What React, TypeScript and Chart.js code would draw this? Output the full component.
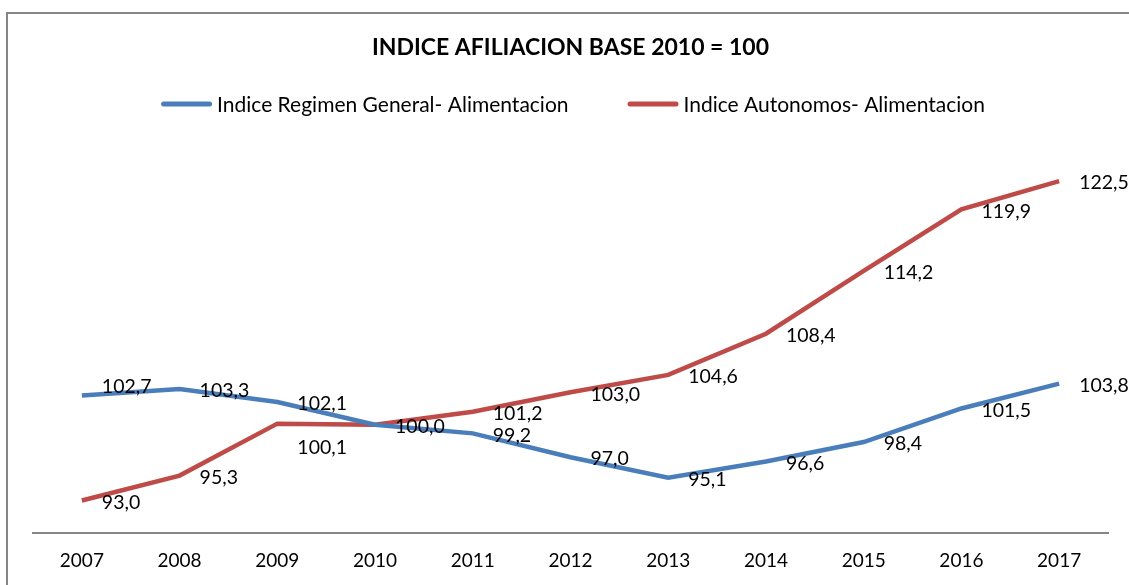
import React, { useEffect, useRef } from "react";
import { Chart, registerables } from "chart.js";

Chart.register(...registerables);

const years = ["2007", "2008", "2009", "2010", "2011", "2012", "2013", "2014", "2015", "2016", "2017"];
const regimenGeneral = [102.7, 103.3, 102.1, 100.0, 99.2, 97.0, 95.1, 96.6, 98.4, 101.5, 103.8];
const autonomos = [93.0, 95.3, 100.1, 100.0, 101.2, 103.0, 104.6, 108.4, 114.2, 119.9, 122.5];
const seriesNames = ["Indice Regimen General- Alimentacion", "Indice Autonomos- Alimentacion"];
const titleText = "INDICE AFILIACION BASE 2010 = 100";

const BLUE = "#4A7EBB";
const RED = "#BE4B48";
const FONT = "Lato, 'Open Sans', sans-serif";

const frame = {
  id: "frame",
  beforeDraw(chart: any) {
    const { ctx, width, height } = chart;
    ctx.save();
    ctx.fillStyle = "#ffffff";
    ctx.fillRect(0, 0, width, height);
    ctx.strokeStyle = "#868686";
    ctx.lineWidth = 2;
    ctx.strokeRect(7, 13, width + 20, height + 20);
    ctx.restore();
  },
};

const customLegend = {
  id: "customLegend",
  afterDraw(chart: any, _args: any, opts: any) {
    const { ctx } = chart;
    ctx.save();
    ctx.font = `21px ${FONT}`;
    ctx.textBaseline = "middle";
    ctx.textAlign = "left";
    const sample = 51;
    const gapText = 5;
    const gapItem = 59;
    const items = chart.data.datasets.map((d: any) => ({
      label: d.label,
      color: d.borderColor,
      w: ctx.measureText(d.label).width,
    }));
    const total = items.reduce((s: number, it: any) => s + sample + gapText + it.w, 0) + gapItem * (items.length - 1);
    let x = opts.centerX - total / 2;
    const y = opts.y;
    items.forEach((it: any) => {
      ctx.strokeStyle = it.color;
      ctx.lineWidth = 5;
      ctx.lineCap = "round";
      ctx.beginPath();
      ctx.moveTo(x + 2.5, y);
      ctx.lineTo(x + sample - 2.5, y);
      ctx.stroke();
      ctx.fillStyle = "#000000";
      ctx.fillText(it.label, x + sample + gapText, y + 1);
      x += sample + gapText + it.w + gapItem;
    });
    ctx.restore();
  },
};

const dataLabels = {
  id: "dataLabels",
  afterDatasetsDraw(chart: any, _args: any, opts: any) {
    const { ctx } = chart;
    ctx.save();
    ctx.font = `19.5px ${FONT}`;
    ctx.fillStyle = "#000000";
    ctx.textAlign = "left";
    ctx.textBaseline = "middle";
    const drawn = new Set<string>();
    chart.data.datasets.forEach((ds: any, di: number) => {
      const meta = chart.getDatasetMeta(di);
      meta.data.forEach((pt: any, i: number) => {
        const v = ds.data[i];
        const off = (opts.offsets && opts.offsets[`${di}-${i}`]) || 0;
        const text = v.toFixed(1).replace(".", ",");
        const x = pt.x + 20;
        const y = pt.y + 2 + off;
        const key = `${Math.round(x)}-${Math.round(y)}-${text}`;
        if (drawn.has(key)) return;
        drawn.add(key);
        ctx.fillText(text, x, y);
      });
    });
    ctx.restore();
  },
};

export default function App() {
  const ref = useRef<HTMLCanvasElement | null>(null);
  useEffect(() => {
    document.body.style.margin = "0";
    if (!ref.current) return;
    const chart = new Chart(ref.current, {
      type: "line",
      data: {
        labels: years,
        datasets: [
          {
            label: seriesNames[0],
            data: regimenGeneral,
            borderColor: BLUE,
            backgroundColor: BLUE,
            borderWidth: 4.5,
            pointRadius: 0,
            tension: 0,
          },
          {
            label: seriesNames[1],
            data: autonomos,
            borderColor: RED,
            backgroundColor: RED,
            borderWidth: 4.5,
            pointRadius: 0,
            tension: 0,
          },
        ],
      },
      options: {
        responsive: false,
        animation: false,
        layout: { padding: { left: 33, right: 21, top: 0, bottom: 13 } },
        plugins: {
          legend: { display: false },
          tooltip: { enabled: false },
          title: {
            display: true,
            text: titleText,
            color: "#000000",
            font: { family: FONT, size: 23, weight: "bold", lineHeight: 1.2 },
            padding: { top: 34, bottom: 92.4 },
          },
          customLegend: { centerX: 573, y: 104 },
          dataLabels: { offsets: { "0-0": -11, "1-2": 22 } },
        } as any,
        scales: {
          x: {
            offset: true,
            grid: { display: false, drawTicks: false },
            border: { display: true, color: "#868686", width: 2 },
            ticks: {
              color: "#000000",
              font: { family: FONT, size: 19, lineHeight: 1.2 },
              padding: 16,
            },
            afterFit: (scale: any) => {
              scale.height = 39;
            },
          },
          y: {
            display: false,
            min: 90,
            max: 125,
          },
        },
      },
      plugins: [frame, customLegend, dataLabels],
    });
    return () => chart.destroy();
  }, []);
  return <canvas ref={ref} width={1129} height={585} style={{ display: "block" }} />;
}
